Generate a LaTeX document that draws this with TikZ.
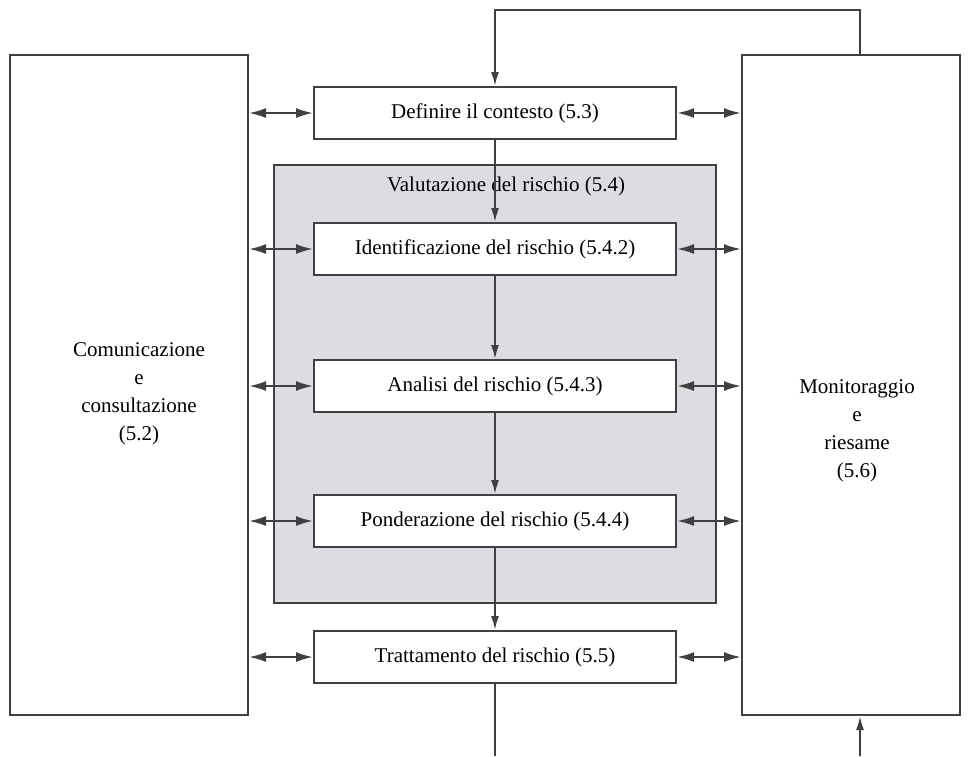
\documentclass[tikz,border=0pt]{standalone}
\usepackage{fontspec}
\setmainfont{Liberation Serif}
\usetikzlibrary{arrows.meta,calc}
\definecolor{evalgray}{RGB}{220,220,226}
\begin{document}
\begin{tikzpicture}[x=1pt,y=-1pt,line width=2pt,draw=black!75,
    font=\fontsize{21}{28}\selectfont,
    stepbox/.style={draw,fill=white,minimum width=362pt,minimum height=52pt,inner sep=0pt},
    sidebox/.style={draw,minimum height=660pt,inner sep=0pt},
    biarrow/.style={{Latex[length=17pt,width=10pt]}-{Latex[length=17pt,width=10pt]}},
    arr/.style={-{Latex[length=14pt,width=8pt]}}]
        \useasboundingbox (0,0) rectangle (968,756);
        \node[draw,fill=evalgray,minimum width=442pt,minimum height=438pt,inner sep=0pt] (eval) at (495,384) {};
        \node (evaltitle) at (506,186) {Valutazione del rischio (5.4)};
        \node[sidebox,minimum width=238pt] (comm) at (129,385) {};
        \node[align=center] (commtext) at (139,394) {Comunicazione\\e\\consultazione\\(5.2)};
        \node[sidebox,minimum width=218pt] (mon) at (851,385) {};
        \node[align=center] (montext) at (857,431) {Monitoraggio\\e\\riesame\\(5.6)};
        \node[stepbox] (def) at (495,113) {Definire il contesto (5.3)};
        \node[stepbox] (ident) at (495,249) {Identificazione del rischio (5.4.2)};
        \node[stepbox] (anal) at (495,386) {Analisi del rischio (5.4.3)};
        \node[stepbox] (pond) at (495,521) {Ponderazione del rischio (5.4.4)};
        \node[stepbox] (tratt) at (495,657) {Trattamento del rischio (5.5)};
        \coordinate (fbtop) at (860,10);
        \coordinate (fbbot) at (860,756);
        \draw[arr] (def) -- (ident);
        \draw[arr] (ident) -- (anal);
        \draw[arr] (anal) -- (pond);
        \draw[arr] (pond) -- (tratt);
        \draw[arr] (mon.north -| fbtop) -- (fbtop) -| (def.north);
        \draw (tratt.south) -- (tratt.south |- fbbot);
        \draw[arr] (fbbot) -- (mon.south -| fbbot);
        \foreach \s in {def,ident,anal,pond,tratt}
        {
        \draw[biarrow] (comm.east |- \s.west) -- (\s.west);
        \draw[biarrow] (\s.east) -- (mon.west |- \s.east);
        }
      \end{tikzpicture}
\end{document}
